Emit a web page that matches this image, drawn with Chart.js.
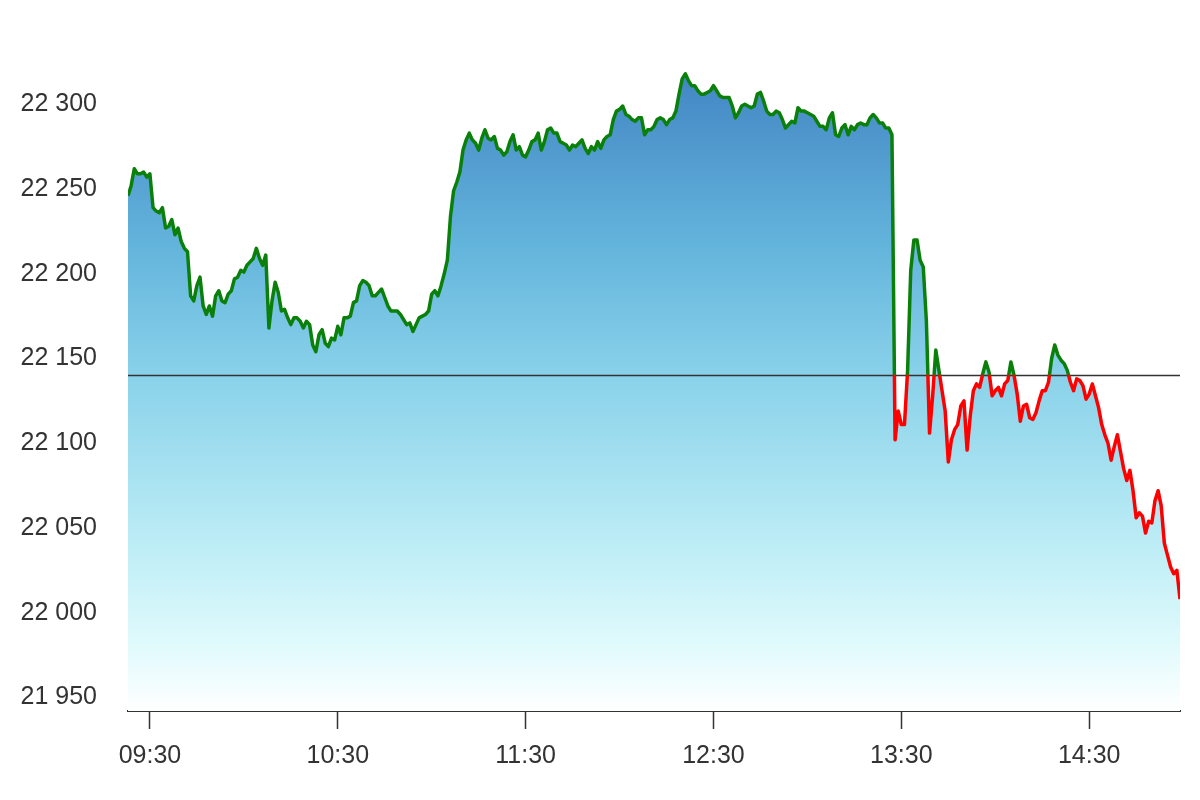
<!DOCTYPE html>
<html>
<head>
<meta charset="utf-8">
<script src="https://cdn.jsdelivr.net/npm/chart.js@4.4.0/dist/chart.umd.min.js"></script>
<style>
  html, body { margin: 0; padding: 0; background: #fff; }
  #wrap { width: 1200px; height: 800px; }
</style>
</head>
<body>
<div id="wrap"><canvas id="chart"></canvas></div>
<script>
// one value per minute, first one at 09:23
const startMinute = 563;
const endMinute = 899;
const values = [
  22246, 22252, 22262, 22259, 22259, 22260, 22257, 22259, 22239, 22237,
  22236, 22239, 22227, 22228, 22232, 22223, 22227, 22219, 22215, 22213,
  22187, 22184, 22193, 22198, 22181, 22176, 22181, 22175, 22187, 22190,
  22184, 22183, 22188, 22190, 22197, 22198, 22202, 22201, 22205, 22207,
  22209, 22215, 22209, 22205, 22211, 22168, 22184, 22195, 22189, 22178,
  22179, 22174, 22170, 22174, 22174, 22172, 22168, 22172, 22170, 22158,
  22154, 22164, 22167, 22159, 22157, 22162, 22161, 22169, 22164, 22174,
  22174, 22175, 22183, 22184, 22193, 22196, 22195, 22193, 22187, 22187,
  22189, 22191, 22186, 22181, 22178, 22178, 22178, 22176, 22173, 22170,
  22171, 22166, 22170, 22174, 22175, 22176, 22178, 22188, 22190, 22187,
  22193, 22200, 22208, 22234, 22249, 22254, 22260, 22273, 22279, 22283,
  22279, 22277, 22273, 22280, 22285, 22280, 22279, 22281, 22274, 22273,
  22270, 22272, 22278, 22282, 22273, 22275, 22270, 22269, 22273, 22278,
  22279, 22283, 22273, 22278, 22285, 22286, 22283, 22283, 22278, 22277,
  22276, 22273, 22276, 22275, 22277, 22279, 22274, 22271, 22275, 22273,
  22278, 22274, 22279, 22281, 22282, 22291, 22296, 22297, 22299, 22294,
  22293, 22291, 22290, 22292, 22292, 22282, 22285, 22285, 22287, 22291,
  22292, 22291, 22288, 22291, 22292, 22296, 22306, 22315, 22318, 22314,
  22311, 22311, 22308, 22306, 22306, 22307, 22308, 22311, 22308, 22305,
  22304, 22304, 22304, 22299, 22292, 22295, 22299, 22300, 22299, 22298,
  22299, 22306, 22307, 22302, 22296, 22294, 22294, 22296, 22295, 22291,
  22286, 22288, 22290, 22289, 22298, 22296, 22296, 22295, 22294, 22293,
  22290, 22287, 22287, 22285, 22292, 22295, 22282, 22281, 22286, 22288,
  22282, 22287, 22285, 22288, 22289, 22288, 22288, 22292, 22294, 22292,
  22289, 22289, 22286, 22286, 22282, 22102, 22119, 22111, 22111, 22143,
  22202, 22220, 22220, 22208, 22204, 22172, 22106, 22128, 22155, 22143,
  22131, 22119, 22089, 22102, 22108, 22111, 22122, 22125, 22096, 22116,
  22131, 22135, 22133, 22141, 22148, 22142, 22128, 22131, 22133, 22128,
  22135, 22137, 22148, 22140, 22129, 22113, 22122, 22123, 22115, 22114,
  22118, 22125, 22131, 22131, 22136, 22150, 22158, 22152, 22149, 22147,
  22143, 22136, 22131, 22138, 22137, 22134, 22126, 22129, 22135, 22128,
  22121, 22111, 22105, 22100, 22090, 22098, 22105, 22095, 22085, 22078,
  22084, 22072, 22056, 22059, 22057, 22047, 22054, 22053, 22066, 22072,
  22063, 22041, 22034, 22027, 22023, 22025, 22008
];
const baseValue = 22140;   // previous close
const yMin = 21942;
const yMax = 22335;
const yTicks = [21950, 22000, 22050, 22100, 22150, 22200, 22250, 22300];
const xTickLabels = ['09:30', '10:30', '11:30', '12:30', '13:30', '14:30'];

function toMinutes(label) {
  const p = label.split(':');
  return parseInt(p[0], 10) * 60 + parseInt(p[1], 10);
}

function fmtNumber(v) {
  return String(v).replace(/\B(?=(\d{3})+(?!\d))/g, ' ');
}

const points = values.map((v, i) => ({x: startMinute + i, y: v}));
const basePoints = [{x: startMinute, y: baseValue}, {x: endMinute, y: baseValue}];

function lineColor(context) {
  const chart = context.chart;
  const area = chart.chartArea;
  if (!area) return 'green';
  const yPix = chart.scales.y.getPixelForValue(baseValue);
  let f = (yPix - area.top) / (area.bottom - area.top);
  f = Math.min(Math.max(f, 0), 1);
  const g = chart.ctx.createLinearGradient(0, area.top, 0, area.bottom);
  g.addColorStop(0, '#0a800a');
  g.addColorStop(f, '#0a800a');
  g.addColorStop(f, '#ff0000');
  g.addColorStop(1, '#ff0000');
  return g;
}

function fillColor(context) {
  const chart = context.chart;
  const area = chart.chartArea;
  if (!area) return '#8ad2ea';
  const g = chart.ctx.createLinearGradient(0, area.top, 0, area.bottom);
  g.addColorStop(0, '#3a7fc0');
  g.addColorStop(0.1, '#4a90c9');
  g.addColorStop(0.3, '#63b4dc');
  g.addColorStop(0.5, '#8ad2ea');
  g.addColorStop(0.75, '#bdedf6');
  g.addColorStop(0.9, '#e0fafc');
  g.addColorStop(1, '#ffffff');
  return g;
}

const tickFont = {family: 'Liberation Sans, Arial, sans-serif', size: 25};

new Chart(document.getElementById('chart'), {
  type: 'line',
  data: {
    datasets: [
      {
        data: points,
        borderColor: lineColor,
        backgroundColor: fillColor,
        borderWidth: 3.5,
        borderJoinStyle: 'round',
        fill: 'start',
        pointRadius: 0,
        tension: 0
      },
      {
        data: basePoints,
        borderColor: '#333333',
        borderWidth: 1.5,
        fill: false,
        pointRadius: 0
      }
    ]
  },
  options: {
    responsive: true,
    maintainAspectRatio: false,
    animation: false,
    layout: {padding: {left: 0, top: 45, right: 20, bottom: 0}},
    plugins: {
      legend: {display: false},
      tooltip: {enabled: false},
      filler: {drawTime: 'beforeDatasetsDraw'}
    },
    scales: {
      x: {
        type: 'linear',
        min: startMinute,
        max: endMinute,
        afterBuildTicks: s => { s.ticks = xTickLabels.map(l => ({value: toMinutes(l)})); },
        afterFit: s => { s.height = 89; },
        grid: {drawOnChartArea: false, tickLength: 18, tickColor: '#333', tickWidth: 1.5},
        border: {display: true, color: '#333', width: 2},
        ticks: {
          font: tickFont,
          color: '#333',
          padding: 12,
          maxRotation: 0,
          callback: v => xTickLabels.find(l => toMinutes(l) === v) || ''
        }
      },
      y: {
        min: yMin,
        max: yMax,
        afterBuildTicks: s => { s.ticks = yTicks.map(v => ({value: v})); },
        afterFit: s => { s.width = 128; },
        grid: {display: false},
        border: {display: false},
        ticks: {
          font: tickFont,
          color: '#333',
          padding: 23,
          callback: v => fmtNumber(v)
        }
      }
    }
  }
});
</script>
</body>
</html>
